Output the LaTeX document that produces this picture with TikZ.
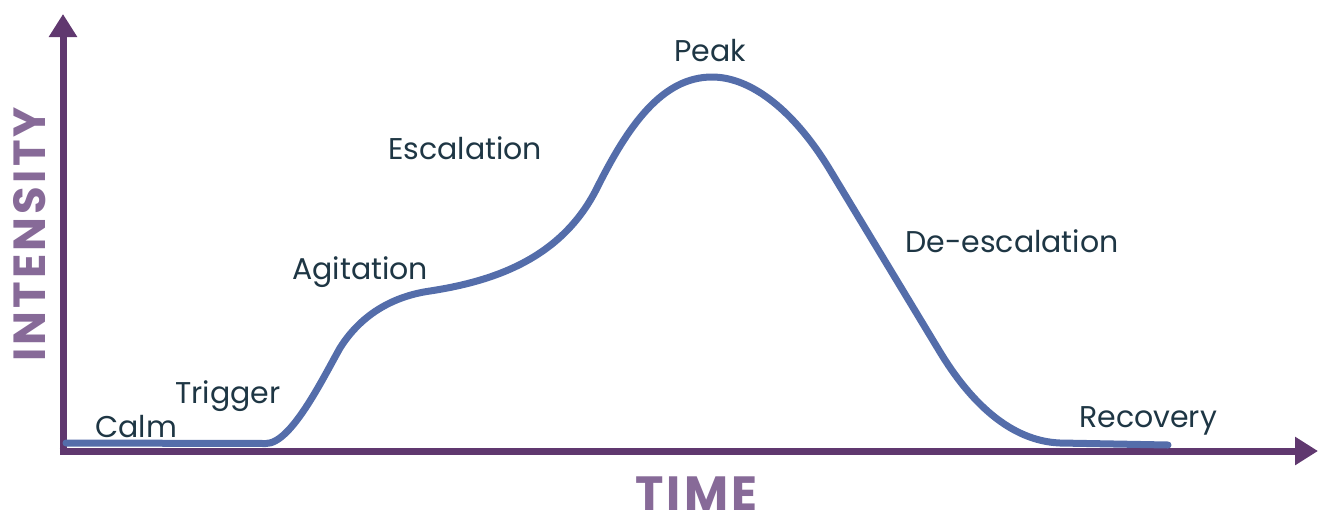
\documentclass[tikz,border=0pt]{standalone}
\usepackage{fontspec}
\setmainfont{Poppins}
\newfontfamily\titlefont[LetterSpace=7]{Poppins}
\usetikzlibrary{arrows.meta}
\definecolor{axiscol}{HTML}{60386F}
\definecolor{axislabel}{HTML}{876A98}
\definecolor{curvecol}{HTML}{546DAA}
\definecolor{textcol}{HTML}{1E3644}
\tikzset{
  axisline/.style={draw=axiscol, line width=7pt, -{Triangle[length=23pt,width=27pt]}},
  phase/.style={anchor=base west, inner sep=0pt, text=textcol, font=\fontsize{30}{30}\selectfont},
  axistitle/.style={anchor=base west, inner sep=0pt, text=axislabel},
  intensitycurve/.style={draw=curvecol, line width=7pt, line cap=round, line join=round}
}
\begin{document}
\begin{tikzpicture}[x=1pt,y=-1pt]
\useasboundingbox (0,0) rectangle (1320,515);
% axes
\coordinate (origin) at (63,451);
\coordinate (ytip) at (63,14);
\coordinate (xstart) at (59.5,451);
\coordinate (xtip) at (1318,451);
\draw[axisline] (xstart) -- (xtip);
\draw[axisline] (origin) -- (ytip);
% intensity curve: calm, trigger, agitation plateau, escalation, peak, de-escalation, recovery
\coordinate (c0) at (66,443);
\coordinate (c1) at (266,443.5);
\coordinate (c2) at (340,348);
\coordinate (c3) at (430,291);
\coordinate (c4) at (597,188);
\coordinate (c5) at (712,77);
\coordinate (c6) at (830,170);
\coordinate (c7) at (940,352);
\coordinate (c8) at (1060,443);
\coordinate (c9) at (1168,445);
\draw[intensitycurve] (c0) -- (c1)
  .. controls (291,443.5) and (322,380) .. (c2)
  .. controls (362,313) and (395,296) .. (c3)
  .. controls (495,281) and (562,258) .. (c4)
  .. controls (628,126) and (662,77) .. (c5)
  .. controls (752,77) and (795,112) .. (c6)
  -- (c7)
  .. controls (970,401.5) and (1010,441) .. (c8)
  -- (c9);
% phase labels
\node[phase] (calm) at (95,437) {Calm};
\node[phase] (trigger) at (175,403) {Trigger};
\node[phase] (agitation) at (292,279) {Agitation};
\node[phase] (escalation) at (388,159) {Escalation};
\node[phase] (peak) at (674,61) {Peak};
\node[phase] (deesc) at (905,252) {De-escalation};
\node[phase] (recovery) at (1079,427) {Recovery};
% axis titles
\node[axistitle, font=\titlefont\bfseries\fontsize{48}{48}\selectfont] (time) at (635,510) {TIME};
\node[axistitle, font=\titlefont\bfseries\fontsize{45}{45}\selectfont, rotate=90] (intensity) at (45,362) {INTENSITY};
\end{tikzpicture}
\end{document}
